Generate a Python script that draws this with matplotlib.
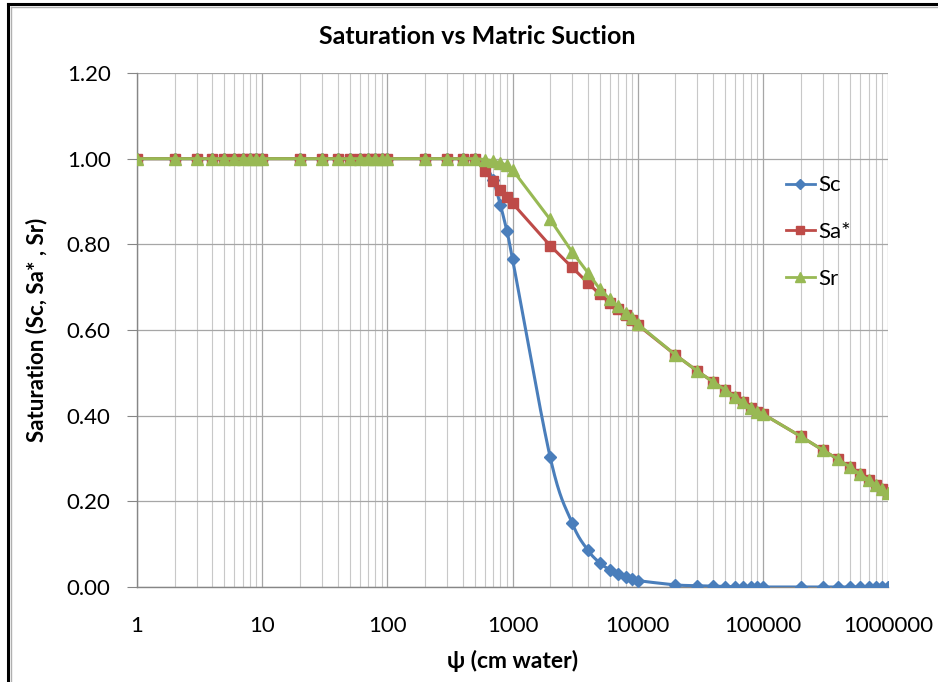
import numpy as np
import matplotlib
matplotlib.use("Agg")
import matplotlib.pyplot as plt
from matplotlib.lines import Line2D
from matplotlib.ticker import FixedLocator, LogLocator, NullFormatter

# ---------------- data ----------------
psi = [1, 2, 3, 4, 5, 6, 7, 8, 9,
       10, 20, 30, 40, 50, 60, 70, 80, 90,
       100, 200, 300, 400, 500, 600, 700, 800, 900,
       1000, 2000, 3000, 4000, 5000, 6000, 7000, 8000, 9000,
       10000, 20000, 30000, 40000, 50000, 60000, 70000, 80000, 90000,
       100000, 200000, 300000, 400000, 500000, 600000, 700000, 800000, 900000,
       1000000]

Sc = [1.0] * 22 + [1.0, 0.985, 0.95, 0.892, 0.832,
                   0.766, 0.303, 0.149, 0.086, 0.056, 0.040, 0.030, 0.023, 0.019,
                   0.015, 0.005, 0.003, 0.002, 0.001, 0.001, 0.0, 0.0, 0.0,
                   0.0, 0.0, 0.0, 0.0, 0.0, 0.0, 0.0, 0.0, 0.0,
                   0.0]

Sa = [1.0] * 22 + [1.0, 0.972, 0.949, 0.928, 0.911,
                   0.896, 0.797, 0.746, 0.710, 0.683, 0.664, 0.649, 0.636, 0.624,
                   0.612, 0.542, 0.504, 0.479, 0.460, 0.444, 0.431, 0.419, 0.409,
                   0.404, 0.352, 0.320, 0.298, 0.279, 0.263, 0.250, 0.238, 0.228,
                   0.220]

Sr = [1.0] * 22 + [1.0, 0.998, 0.995, 0.990, 0.985,
                   0.974, 0.858, 0.782, 0.734, 0.695, 0.672, 0.655, 0.640, 0.627,
                   0.614, 0.542, 0.504, 0.479, 0.460, 0.444, 0.431, 0.419, 0.409,
                   0.404, 0.352, 0.320, 0.298, 0.279, 0.263, 0.250, 0.238, 0.228,
                   0.220]

series_names = ["Sc", "Sa*", "Sr"]
colors = ["#4A7EBB", "#BE4B48", "#98B954"]
title = "Saturation vs Matric Suction"
xlabel = "\u03c8 (cm water)"
ylabel = "Saturation (Sc, Sa* , Sr)"
xticks = [1, 10, 100, 1000, 10000, 100000, 1000000]
xticklabels = ["1", "10", "100", "1000", "10000", "100000", "1000000"]
yticks = [0.0, 0.2, 0.4, 0.6, 0.8, 1.0, 1.2]


def smooth_curve(x, y, n=20):
    """Catmull-Rom smoothing in log-x space (like Excel's smoothed line)."""
    lx = np.log10(np.asarray(x, float))
    yy = np.asarray(y, float)
    P = np.column_stack([lx, yy])
    P = np.vstack([P[0], P, P[-1]])
    out = []
    for i in range(1, len(P) - 2):
        p0, p1, p2, p3 = P[i - 1], P[i], P[i + 1], P[i + 2]
        c1 = p1 + (p2 - p0) / 6.0
        c2 = p2 - (p3 - p1) / 6.0
        t = np.linspace(0, 1, n)[:, None]
        b = ((1 - t) ** 3) * p1 + 3 * ((1 - t) ** 2) * t * c1 + 3 * (1 - t) * t ** 2 * c2 + t ** 3 * p2
        out.append(b if i == 1 else b[1:])
    out = np.vstack(out)
    return 10 ** out[:, 0], out[:, 1]


plt.rcParams['font.family'] = ['Lato', 'DejaVu Sans']

fig = plt.figure(figsize=(9.38, 6.82), dpi=100)
ax = fig.add_axes([137 / 938, 1 - 587 / 682, (888 - 137) / 938, (587 - 73) / 682])

ax.set_xscale('log')
ax.set_xlim(1, 1e6)
ax.set_ylim(0, 1.2)

# grid
ax.xaxis.set_major_locator(FixedLocator(xticks))
ax.xaxis.set_minor_locator(LogLocator(base=10, subs=np.arange(2, 10)))
ax.xaxis.set_minor_formatter(NullFormatter())
ax.set_xticklabels(xticklabels)
ax.set_yticks(yticks)
ax.set_yticklabels([f"{v:.2f}" for v in yticks])
ax.grid(True, which='major', axis='both', color='#A6A6A6', linewidth=0.9)
ax.grid(True, which='minor', axis='x', color='#C8C8C8', linewidth=0.8)
ax.set_axisbelow(True)

for s in ['top', 'right']:
    ax.spines[s].set_visible(False)
for s in ['left', 'bottom']:
    ax.spines[s].set_color('#868686')
    ax.spines[s].set_linewidth(1.0)

ax.tick_params(axis='y', which='major', length=7, color='#868686', labelsize=16, pad=12,
               direction='out')
ax.tick_params(axis='x', which='major', length=0, labelsize=16, pad=21)
ax.tick_params(axis='x', which='minor', length=0)

# series
sx, sy = smooth_curve(psi, Sc)
ax.plot(sx, sy, color=colors[0], linewidth=2.2, zorder=3)
ax.plot(psi, Sc, linestyle='none', marker='D', markersize=6.5, color=colors[0], zorder=3)
ax.plot(psi, Sa, color=colors[1], linewidth=2.2, marker='s', markersize=7.5, zorder=4)
ax.plot(psi, Sr, color=colors[2], linewidth=2.2, marker='^', markersize=8.5, zorder=5)

handles = [Line2D([], [], color=colors[0], marker='D', markersize=5, linewidth=2),
           Line2D([], [], color=colors[1], marker='s', markersize=6, linewidth=2),
           Line2D([], [], color=colors[2], marker='^', markersize=7, linewidth=2)]
leg = ax.legend(handles, series_names, loc='upper left', bbox_to_anchor=(0.852, 0.818),
                frameon=False, fontsize=16, labelspacing=1.2, handlelength=1.3,
                handletextpad=0.15, borderaxespad=0)

ax.set_title(title, fontsize=18, fontweight='bold', pad=21, x=(477 - 137) / 751)
ax.set_xlabel(xlabel, fontsize=16.5, fontweight='bold', labelpad=10)
ax.set_ylabel(ylabel, fontsize=16, fontweight='bold', labelpad=14)

# outer frame (top and left edges visible)
fig.add_artist(Line2D([8 / 938, 8 / 938], [0, 1 - 4 / 682], transform=fig.transFigure,
                      color='black', linewidth=2.2))
fig.add_artist(Line2D([8 / 938, 1], [1 - 4 / 682, 1 - 4 / 682], transform=fig.transFigure,
                      color='black', linewidth=2.2))
fig.add_artist(Line2D([11 / 938, 11 / 938], [0, 1 - 7 / 682], transform=fig.transFigure,
                      color='#B0B0B0', linewidth=1.0))
fig.add_artist(Line2D([11 / 938, 1], [1 - 7 / 682, 1 - 7 / 682], transform=fig.transFigure,
                      color='#B0B0B0', linewidth=1.0))

fig.savefig("out.png", dpi=100)
